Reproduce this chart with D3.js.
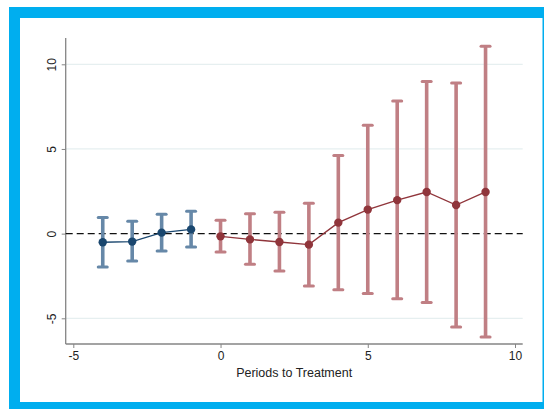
<!DOCTYPE html>
<html>
<head>
<meta charset="utf-8">
<script src="https://cdn.jsdelivr.net/npm/d3@7"></script>
<style>
html,body{margin:0;padding:0;background:#fff;}
svg{display:block;}
text{font-family:"Liberation Sans",Arial,Helvetica,sans-serif;fill:#222;}
</style>
</head>
<body>
<svg id="c" width="544" height="409"></svg>
<script>
// Data
const prePeriods = [-4, -3, -2, -1];
const preEst = [-0.51, -0.47, 0.06, 0.25];
const preLo = [-1.97, -1.62, -1.03, -0.79];
const preHi = [0.96, 0.73, 1.14, 1.32];

const postPeriods = [0, 1, 2, 3, 4, 5, 6, 7, 8, 9];
const postEst = [-0.16, -0.34, -0.49, -0.65, 0.65, 1.42, 1.98, 2.46, 1.69, 2.46];
const postLo = [-1.08, -1.81, -2.20, -3.09, -3.31, -3.54, -3.84, -4.06, -5.52, -6.11];
const postHi = [0.79, 1.18, 1.26, 1.79, 4.61, 6.40, 7.83, 8.98, 8.90, 11.06];

const xTicks = [-5, 0, 5, 10];
const yTicks = [-5, 0, 5, 10];
const xTitle = "Periods to Treatment";

const svg = d3.select("#c");

// frame
svg.append("rect").attr("x",0).attr("y",0).attr("width",544).attr("height",409).attr("fill","#fff");
const blue = "#00aeef";
svg.append("rect").attr("x",9).attr("y",7).attr("width",535).attr("height",11).attr("fill",blue);
svg.append("rect").attr("x",9).attr("y",7).attr("width",11).attr("height",402).attr("fill",blue);
svg.append("rect").attr("x",9).attr("y",402).attr("width",535).attr("height",7).attr("fill",blue);
svg.append("rect").attr("x",542.5).attr("y",7).attr("width",1.5).attr("height",402).attr("fill",blue);

const x = d3.scaleLinear().domain([-5, 10]).range([73.3, 515]);
const y = d3.scaleLinear().domain([-5, 10]).range([318.3, 64.3]);

const axL = 65.7, axR = 522.7, axT = 38, axB = 344;
const fmt = d => String(d);

// gridlines
svg.append("g").selectAll("line").data(yTicks.filter(d=>d!==0)).join("line")
  .attr("x1", axL).attr("x2", axR)
  .attr("y1", d=>y(d)).attr("y2", d=>y(d))
  .attr("stroke","#e6eff0").attr("stroke-width",1.2);

// axes
const xAxis = d3.axisBottom(x).tickValues(xTicks).tickSize(4).tickPadding(3).tickFormat(fmt);
const gx = svg.append("g").attr("transform",`translate(0,${axB})`).call(xAxis);
gx.select(".domain").remove();
gx.append("line").attr("x1",axL).attr("x2",axR).attr("y1",0).attr("y2",0).attr("stroke","#858585").attr("stroke-width",1.3);
gx.selectAll(".tick line").attr("stroke","#858585").attr("stroke-width",1);
gx.selectAll(".tick text").attr("font-size",12).attr("fill","#222").style("font-family","Liberation Sans, Arial, sans-serif");

const yAxis = d3.axisLeft(y).tickValues(yTicks).tickSize(4).tickPadding(0).tickFormat(fmt);
const gy = svg.append("g").attr("transform",`translate(${axL},0)`).call(yAxis);
gy.select(".domain").remove();
gy.append("line").attr("x1",0).attr("x2",0).attr("y1",axT).attr("y2",axB).attr("stroke","#858585").attr("stroke-width",1.3);
gy.selectAll(".tick line").attr("stroke","#858585").attr("stroke-width",1);
gy.selectAll(".tick text")
  .attr("font-size",12).attr("fill","#222").style("font-family","Liberation Sans, Arial, sans-serif")
  .attr("x",null).attr("dy",null)
  .attr("text-anchor","middle")
  .attr("transform","translate(-10,0) rotate(-90)");

// zero reference line
svg.append("line").attr("x1",axL).attr("x2",axR).attr("y1",y(0)).attr("y2",y(0))
  .attr("stroke","#111").attr("stroke-width",1.3).attr("stroke-dasharray","7,4");

function series(periods, est, lo, hi, barColor, dotColor){
  const data = periods.map((p,i)=>({p, e:est[i], lo:lo[i], hi:hi[i]}));
  const g = svg.append("g");
  g.selectAll(".bar").data(data).join("line")
    .attr("x1",d=>x(d.p)).attr("x2",d=>x(d.p))
    .attr("y1",d=>y(d.lo)).attr("y2",d=>y(d.hi))
    .attr("stroke",barColor).attr("stroke-width",3.6);
  ["lo","hi"].forEach(k=>{
    g.selectAll(".cap"+k).data(data).join("line")
      .attr("x1",d=>x(d.p)-4.5).attr("x2",d=>x(d.p)+4.5)
      .attr("y1",d=>y(d[k])).attr("y2",d=>y(d[k]))
      .attr("stroke",barColor).attr("stroke-width",3).attr("stroke-linecap","round");
  });
  g.append("path").datum(data)
    .attr("d", d3.line().x(d=>x(d.p)).y(d=>y(d.e)))
    .attr("fill","none").attr("stroke",dotColor).attr("stroke-width",1.4);
  g.selectAll("circle").data(data).join("circle")
    .attr("cx",d=>x(d.p)).attr("cy",d=>y(d.e)).attr("r",4.2)
    .attr("fill",dotColor);
}

series(prePeriods, preEst, preLo, preHi, "#6688a8", "#1a476f");
series(postPeriods, postEst, postLo, postHi, "#c07f84", "#90353b");

svg.append("text").attr("x",(x(-5)+x(10))/2).attr("y",377)
  .attr("text-anchor","middle").attr("font-size",12.5).text(xTitle);
</script>
</body>
</html>
